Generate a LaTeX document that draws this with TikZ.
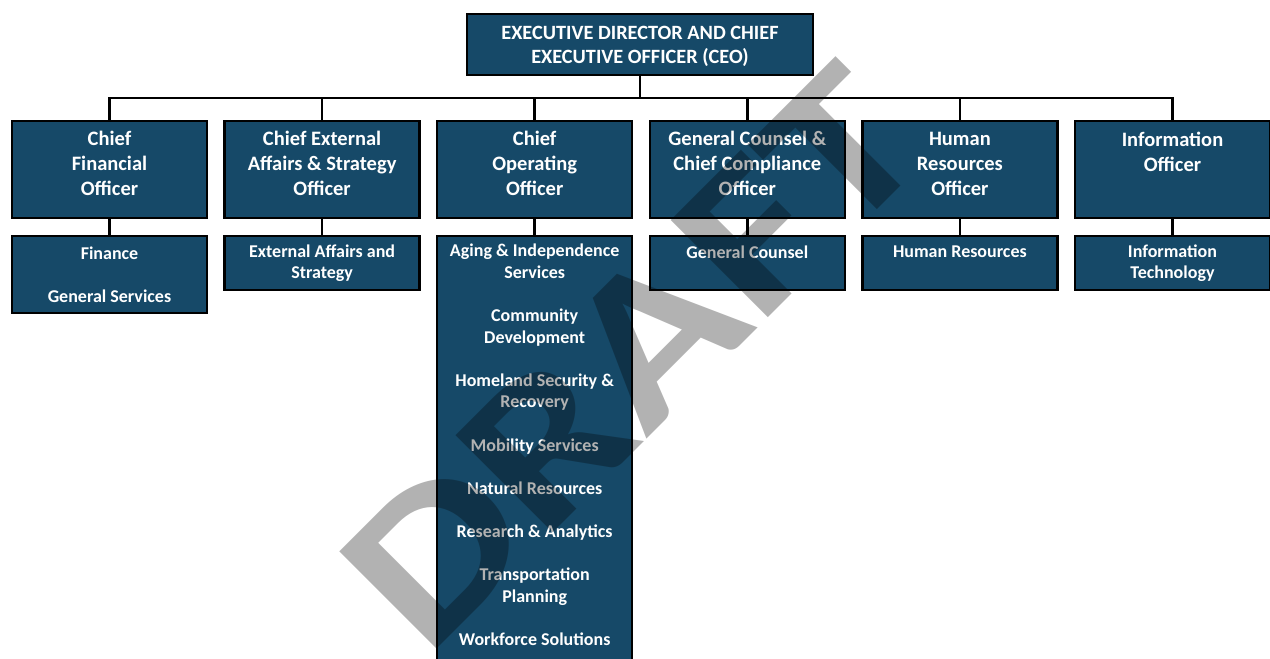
\documentclass[tikz,border=0pt]{standalone}
\usepackage{fontspec}
\setmainfont{Carlito}
\usetikzlibrary{positioning}
\definecolor{boxblue}{RGB}{22,73,104}

\begin{document}
\begin{tikzpicture}[x=1pt, y=-1pt, node distance=15.5pt and 15.1pt, line width=2.5pt,
    unit/.style={draw=black, fill=boxblue, text=white, align=center, minimum width=195pt, inner ysep=8pt},
    officer/.style={unit, minimum height=97pt, text depth=11.4pt, font=\fontsize{20.5}{25}\selectfont\bfseries},
    dept/.style={unit, minimum height=54pt, font=\fontsize{18}{21.6}\selectfont\bfseries}]

    \useasboundingbox (0,0) rectangle (1270,659);

    % Director on top
    \node[unit, minimum width=346pt, minimum height=61pt, text depth=0pt, font=\fontsize{20.3}{24}\selectfont\bfseries] (ceo) at (640,44.5) {EXECUTIVE DIRECTOR AND CHIEF\\EXECUTIVE OFFICER (CEO)};

    % Officers in one row
    \node[officer] (cfo) at (109.5,169.5) {Chief\\Financial\\Officer};
    \node[officer, right=of cfo] (cea) {Chief External\\Affairs \& Strategy\\Officer};
    \node[officer, right=of cea] (coo) {Chief\\Operating\\Officer};
    \node[officer, right=of coo] (gc) {General Counsel \&\\Chief Compliance\\Officer};
    \node[officer, right=of gc] (hr) {Human\\Resources\\Officer};
    \node[officer, right=of hr, text depth=36.4pt] (io) {Information\\Officer};

    % Departments below each officer
    \node[dept, below=of cfo, minimum height=77pt] (fin) {Finance\\[21.6pt]General Services};
    \node[dept, below=of cea] (ext) {External Affairs and\\Strategy};
    \node[dept, below=of coo, text depth=24pt] (ops) {Aging \& Independence\\Services\\[21.6pt]Community\\Development\\[21.6pt]Homeland Security \&\\Recovery\\[21.6pt]Mobility Services\\[21.6pt]Natural Resources\\[21.6pt]Research \& Analytics\\[21.6pt]Transportation\\Planning\\[21.6pt]Workforce Solutions};
    \node[dept, below=of gc, text depth=22.6pt] (gen) {General Counsel};
    \node[dept, below=of hr, text depth=22.6pt] (hum) {Human Resources};
    \node[dept, below=of io] (it) {Information\\Technology};

    % Connectors
    \coordinate (bus) at (640,98);
    \draw (ceo.south) -- (bus);
    \draw (cfo.north) -- (cfo.north |- bus) -- (io.north |- bus) -- (io.north);
    \foreach \n in {cea,coo,gc,hr} \draw (\n.north) -- (\n.north |- bus);
    \foreach \a/\b in {cfo/fin,cea/ext,coo/ops,gc/gen,hr/hum,io/it} \draw (\a.south) -- (\b.north);

    % Watermark over everything
    \node[rotate=45, xscale=1.23, text=black, opacity=0.3, inner sep=0pt, font=\fontsize{212}{212}\selectfont\bfseries] (draft) at (632,357) {DRAFT};
\end{tikzpicture}
\end{document}
